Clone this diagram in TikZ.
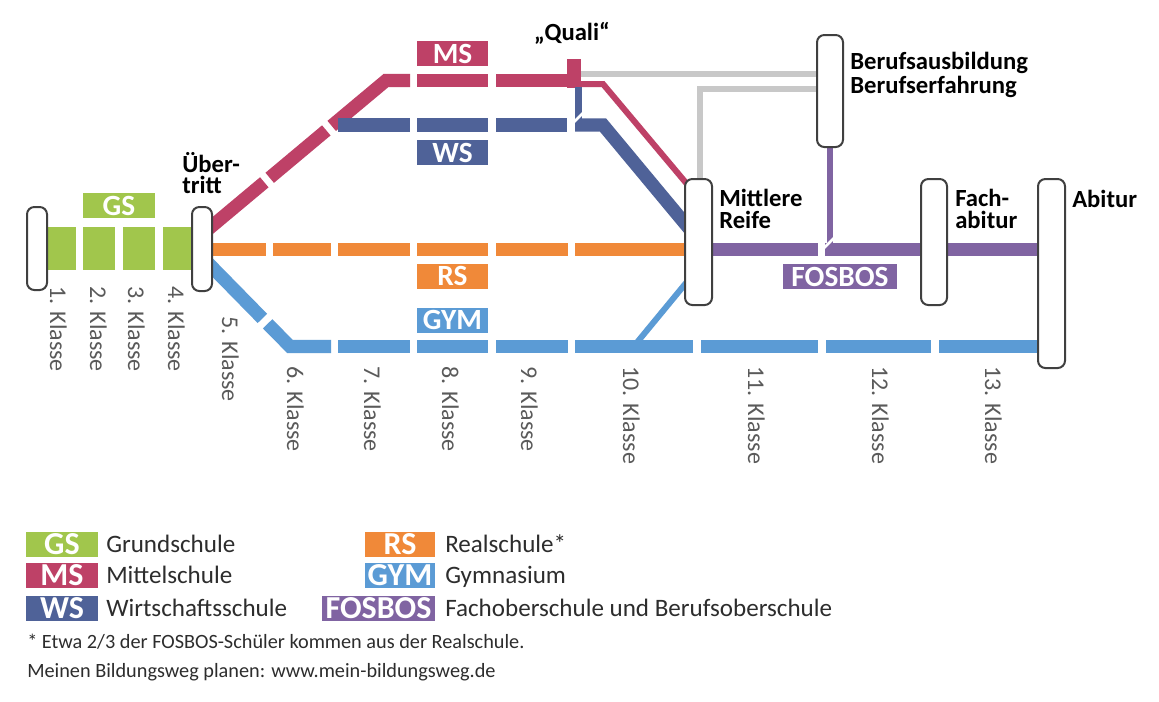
\documentclass[tikz,border=0pt]{standalone}
\usepackage{fontspec}
\setmainfont{Carlito}
\definecolor{cgs}{RGB}{161,198,76}
\definecolor{cms}{RGB}{190,65,103}
\definecolor{cws}{RGB}{79,98,152}
\definecolor{crs}{RGB}{240,137,57}
\definecolor{cgym}{RGB}{91,155,213}
\definecolor{cfos}{RGB}{128,100,162}
\definecolor{cgray}{RGB}{200,200,200}
\definecolor{stopc}{RGB}{64,64,64}
\definecolor{klc}{RGB}{90,90,90}
\definecolor{lgc}{RGB}{45,45,45}
\begin{document}
\begin{tikzpicture}[x=0.75pt,y=-0.75pt,
  trk/.style={line width=9.9pt},
  thn/.style={line width=4.5pt},
  cut/.style={draw=white,line width=2pt},
  stopbox/.style={draw=stopc,line width=1.5pt,fill=white,rounded corners=5.5pt,inner sep=0pt},
  lab/.style={inner sep=0pt,text=white,font=\fontsize{22}{22}\selectfont\bfseries,minimum height=18.75pt},
  blbl/.style={inner sep=0pt,anchor=base west,font=\fontsize{18.5}{18.5}\selectfont\bfseries},
  blml/.style={inner sep=0pt,anchor=south west,align=left},
  kl/.style={inner sep=0pt,anchor=base west,rotate=-90,text=klc,font=\fontsize{18}{18}\selectfont},
  lg/.style={inner sep=0pt,anchor=base west,text=lgc,font=\fontsize{18.8}{18.8}\selectfont},
  lgbox/.style={inner sep=0pt,text=white,font=\fontsize{24}{24}\selectfont\bfseries,minimum height=18.75pt},
  fn/.style={inner sep=0pt,anchor=base west,text=lgc,font=\fontsize{15.2}{15.2}\selectfont}]
\useasboundingbox[fill=white] (0,0) rectangle (1159,701);

% ---------- gray lines (Quali / Mittlere Reife -> Beruf) ----------
\coordinate (q1) at (581,74);
\coordinate (q2) at (830,74);
\draw[cgray,thn] (q1) -- (q2);
\coordinate (g1) at (830,88.5);
\coordinate (g2) at (699.5,88.5);
\coordinate (g3) at (699.5,186);
\draw[cgray,thn] (g1) -- (g2) -- (g3);

% ---------- MS (red) ----------
\draw[cms,trk] (205,231.9) -- (264.3,182.3);
\draw[cms,trk] (269.7,177.8) -- (326.3,130.4);
\draw[cms,trk] (331.7,125.9) -- (386,80.5) -- (410,80.5);
\draw[cms,trk] (417,80.5) -- (488,80.5);
\draw[cms,trk] (496,80.5) -- (580,80.5);
\draw[cms,thn] (578,84) -- (603,84) -- (692,190);
\fill[cms] (567,59) rectangle (581,88);

% ---------- WS (dark blue) ----------
\draw[cws,trk] (338,125) -- (410,125);
\draw[cws,trk] (417,125) -- (488,125);
\draw[cws,trk] (496,125) -- (567,125);
\draw[cws,trk] (575,125) -- (603,125) -- (692,232);
\draw[cws,line width=5.25pt] (578,87) -- (578,125);
\draw[cut] (571,125) -- (586,110);

% ---------- RS (orange) ----------
\foreach \a/\b in {205/266,273/331,338/410,417/488,496/568,575/692}
  \draw[crs,trk] (\a,249.5) -- (\b,249.5);

% ---------- GYM (light blue) ----------
\draw[cgym,trk] (205,259.9) -- (262.4,318.4);
\draw[cgym,trk] (267.65,323.8) -- (290,346.5) -- (331,346.5);
\foreach \a/\b in {338/410,417/488,496/568,575/693,701/818,826/931,939/1045}
  \draw[cgym,trk] (\a,346.5) -- (\b,346.5);
\draw[cgym,thn] (633,347.3) -- (692,275.7);

% ---------- FOSBOS (purple) ----------
\draw[cfos,trk] (705,249.5) -- (818,249.5);
\draw[cfos,trk] (825,249.5) -- (1045,249.5);
\draw[cfos,thn] (830,140) -- (830,249.5);
\draw[cut] (821,251) -- (837,235);

% ---------- GS (green) ----------
\fill[cgs] (40,227) rectangle (76,270);
\fill[cgs] (83,227) rectangle (115,270);
\fill[cgs] (123,227) rectangle (155,270);
\fill[cgs] (163,227) rectangle (198,270);

% ---------- stops ----------
\node[stopbox,minimum width=15pt,minimum height=62.25pt] (s1) at (37,248.5) {};
\node[stopbox,minimum width=15pt,minimum height=63pt] (ub) at (202,249) {};
\node[stopbox,minimum width=20.25pt,minimum height=94.5pt] (mr) at (698.5,242) {};
\node[stopbox,minimum width=19.5pt,minimum height=84pt] (bb) at (830,91) {};
\node[stopbox,minimum width=19.5pt,minimum height=94.5pt] (fa) at (934,242) {};
\node[stopbox,minimum width=20.25pt,minimum height=141.75pt] (ab) at (1051.5,273.5) {};

% ---------- line labels ----------
\node[lab,fill=cgs,minimum width=54pt] (lbgs) at (119,205.5) {GS};
\node[lab,fill=cms,minimum width=53.25pt] (lbms) at (452.5,53.5) {MS};
\node[lab,fill=cws,minimum width=53.25pt] (lbws) at (452.5,152.5) {WS};
\node[lab,fill=crs,minimum width=53.25pt] (lbrs) at (452.5,276) {RS};
\node[lab,fill=cgym,minimum width=53.25pt] (lbgym) at (452.5,320) {GYM};
\node[lab,fill=cfos,minimum width=85.5pt] (lbfos) at (840,276.5) {FOSBOS};

% ---------- stop labels ----------
\node[blml,font=\fontsize{18.5}{15.75}\selectfont\bfseries] (t1) at (182,194) {Über-\\tritt};
\node[blbl,anchor=base] (tq) at (572,40) {„Quali“};
\node[blml,font=\fontsize{18.5}{18}\selectfont\bfseries] (t3) at (850,97.5) {Berufsausbildung\\Berufserfahrung};
\node[blml,font=\fontsize{18.5}{16.5}\selectfont\bfseries] (t5) at (719,229) {Mittlere\\Reife};
\node[blml,font=\fontsize{18.5}{16.5}\selectfont\bfseries] (t7) at (955,229) {Fach-\\abitur};
\node[blbl] (t9) at (1072,207) {Abitur};

% ---------- class labels ----------
\node[kl] (k1) at (50,286) {1. Klasse};
\node[kl] (k2) at (90,286) {2. Klasse};
\node[kl] (k3) at (128,286) {3. Klasse};
\node[kl] (k4) at (168,286) {4. Klasse};
\node[kl] (k5) at (222,316) {5. Klasse};
\node[kl] (k6) at (287,366) {6. Klasse};
\node[kl] (k7) at (364,366) {7. Klasse};
\node[kl] (k8) at (442,366) {8. Klasse};
\node[kl] (k9) at (521,366) {9. Klasse};
\node[kl] (k10) at (623,366) {10. Klasse};
\node[kl] (k11) at (748,366) {11. Klasse};
\node[kl] (k12) at (872,366) {12. Klasse};
\node[kl] (k13) at (985,366) {13. Klasse};

% ---------- legend ----------
\node[lgbox,fill=cgs,minimum width=54pt] (lgs) at (62,544.5) {GS};
\node[lgbox,fill=cms,minimum width=54pt] (lms) at (62,575.5) {MS};
\node[lgbox,fill=cws,minimum width=54pt] (lws) at (62,608.5) {WS};
\node[lgbox,fill=crs,minimum width=52.5pt] (lrs) at (400,544.5) {RS};
\node[lgbox,fill=cgym,minimum width=52.5pt] (lgym) at (400,575.5) {GYM};
\node[lgbox,fill=cfos,minimum width=84.75pt] (lfos) at (378.5,608.5) {FOSBOS};
\node[lg] (d1) at (106,552) {Grundschule};
\node[lg] (d2) at (106,583) {Mittelschule};
\node[lg] (d3) at (106,616) {Wirtschaftsschule};
\node[lg] (d4) at (445,552) {Realschule*};
\node[lg] (d5) at (445,583) {Gymnasium};
\node[lg] (d6) at (445,616) {Fachoberschule und Berufsoberschule};
\node[fn] (f1) at (27,648) {* Etwa 2/3 der FOSBOS-Schüler kommen aus der Realschule.};
\node[fn] (f2) at (27,677) {Meinen Bildungsweg planen: www.mein-bildungsweg.de};
\end{tikzpicture}
\end{document}
